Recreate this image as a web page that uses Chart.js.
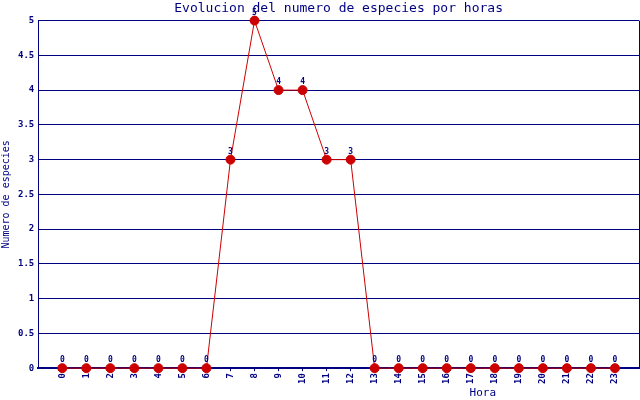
<!DOCTYPE html>
<html>
<head>
<meta charset="utf-8">
<script src="https://cdn.jsdelivr.net/npm/chart.js@4"></script>
<style>
  html, body { margin: 0; padding: 0; background: #fff; }
  #wrap { width: 640px; height: 400px; }
</style>
</head>
<body>
<div id="wrap"><canvas id="chart"></canvas></div>
<script>
// Data
const hours = [0,1,2,3,4,5,6,7,8,9,10,11,12,13,14,15,16,17,18,19,20,21,22,23];
const species = [0,0,0,0,0,0,0,3,5,4,4,3,3,0,0,0,0,0,0,0,0,0,0,0];
const yTicks = [0,0.5,1,1.5,2,2.5,3,3.5,4,4.5,5];

const navy = "#000080";
const red = "#cc0000";
const mono = "'DejaVu Sans Mono', monospace";

// Value labels above each point + the "Hora" caption
const labelsPlugin = {
  id: "pointLabels",
  afterDatasetsDraw(chart) {
    const ctx = chart.ctx;
    const meta = chart.getDatasetMeta(0);
    ctx.save();
    ctx.fillStyle = navy;
    ctx.font = "bold 8px " + mono;
    ctx.textAlign = "center";
    ctx.textBaseline = "bottom";
    meta.data.forEach((pt, i) => {
      ctx.fillText(String(species[i]), pt.x, pt.y - 4);
    });
    ctx.restore();
  },
  afterDraw(chart) {
    const ctx = chart.ctx;
    const a = chart.chartArea;
    ctx.save();
    ctx.fillStyle = navy;
    ctx.font = "11px " + mono;
    ctx.textAlign = "center";
    ctx.textBaseline = "middle";
    ctx.fillText("Hora", a.left + (a.right - a.left) * 0.74, 393);
    ctx.restore();
  }
};

new Chart(document.getElementById("chart"), {
  type: "line",
  data: {
    datasets: [{
      data: hours.map((h, i) => ({ x: h, y: species[i] })),
      borderColor: red,
      borderWidth: 1,
      backgroundColor: red,
      pointBackgroundColor: red,
      pointBorderColor: red,
      pointRadius: 4.5,
      tension: 0,
      clip: false
    }]
  },
  options: {
    responsive: true,
    maintainAspectRatio: false,
    animation: false,
    events: [],
    layout: { autoPadding: false, padding: { left: 0, right: 1, top: 1, bottom: 14 } },
    plugins: {
      legend: { display: false },
      tooltip: { enabled: false },
      title: {
        display: true,
        fullSize: false,
        text: "Evolucion del numero de especies por horas",
        color: navy,
        font: { family: mono, size: 13, weight: "normal" },
        padding: { top: 0, bottom: 4 }
      }
    },
    scales: {
      x: {
        type: "linear",
        min: -1,
        max: 24,
        afterBuildTicks: axis => { axis.ticks = [-1].concat(hours, [24]).map(v => ({ value: v })); },
        afterFit: axis => { axis.paddingRight = 0; },
        ticks: {
          color: navy,
          font: { family: mono, size: 9, weight: "bold" },
          maxRotation: 90,
          minRotation: 90,
          padding: 2,
          callback: v => (v < 0 || v > 23 ? "" : String(v))
        },
        grid: {
          color: c => (c.tick && c.tick.value === 24 ? navy : "rgba(0,0,0,0)"),
          tickColor: c => (c.tick && c.tick.value >= 0 && c.tick.value <= 23 ? navy : "rgba(0,0,0,0)"),
          tickLength: 3,
          lineWidth: 1
        },
        border: { color: navy, width: 2 }
      },
      y: {
        min: 0,
        max: 5,
        afterBuildTicks: axis => { axis.ticks = yTicks.map(v => ({ value: v })); },
        ticks: {
          color: navy,
          font: { family: mono, size: 9, weight: "bold" },
          padding: 4,
          callback: v => String(v)
        },
        grid: { color: navy, lineWidth: 1, drawTicks: false },
        border: { color: navy, width: 1 },
        title: {
          display: true,
          text: "Numero de especies",
          color: navy,
          font: { family: mono, size: 10 },
          padding: { top: 0, bottom: 2 }
        }
      }
    }
  },
  plugins: [labelsPlugin]
});
</script>
</body>
</html>
